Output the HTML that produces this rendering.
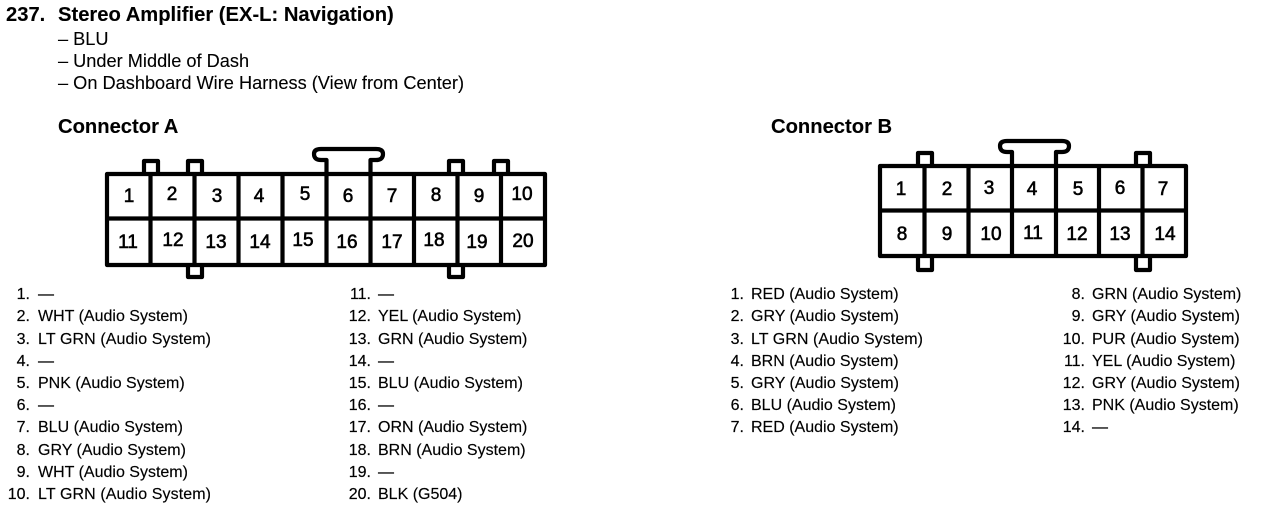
<!DOCTYPE html>
<html><head><meta charset="utf-8">
<style>
html,body{margin:0;padding:0;background:#fff;width:1264px;height:512px;overflow:hidden}
svg{display:block}
text{font-family:"Liberation Sans",sans-serif;fill:#000}
.t{font-size:16px;stroke:#000;stroke-width:.15}
.d{font-size:18.2px;stroke:#000;stroke-width:.1}
.n{font-size:16px;text-anchor:end;stroke:#000;stroke-width:.2}
.h{font-size:20.2px;font-weight:bold;stroke:#000;stroke-width:.1}
.c{font-size:19px;text-anchor:middle;stroke:#000;stroke-width:.6}
.s{fill:none;stroke:#000;stroke-width:4.2;stroke-linejoin:round}
</style></head><body>
<svg width="1264" height="512" viewBox="0 0 1264 512" xmlns="http://www.w3.org/2000/svg">
<text class="h" x="6" y="21">237.</text>
<text class="h" x="58" y="21">Stereo Amplifier (EX-L: Navigation)</text>
<text class="d" x="58" y="45">– BLU</text>
<text class="d" x="58" y="67">– Under Middle of Dash</text>
<text class="d" x="58" y="89">– On Dashboard Wire Harness (View from Center)</text>
<text class="h" x="58" y="133">Connector A</text>
<text class="h" x="771" y="133">Connector B</text>

<!-- Connector A -->
<g class="s">
<path d="M144 172V161H158V172M188 172V161H202V172M449 172V161H463V172M494 172V161H508V172"/>
<path d="M188 265V277H202V265M449 265V277H463V265"/>
<path d="M326.500 172V160H321Q314 160 314 154Q314 149 321 149H376Q383 149 383 154Q383 160 376 160H370.500V172"/>
<rect x="107" y="174" width="438" height="91"/>
<path d="M150.500 174V265M194.500 174V265M238.500 174V265M282.500 174V265M326.500 174V265M370.500 174V265M414 174V265M457.500 174V265M501 174V265M107 218.500H545"/>
</g>
<g class="c">
<text x="129" y="202">1</text><text x="172" y="200">2</text><text x="217" y="202">3</text><text x="259" y="202">4</text><text x="305" y="200">5</text><text x="348" y="202">6</text><text x="392" y="202">7</text><text x="436" y="201">8</text><text x="479" y="202">9</text><text x="522" y="200">10</text>
<text x="128" y="248">11</text><text x="173" y="246">12</text><text x="216" y="248">13</text><text x="260" y="248">14</text><text x="303" y="246">15</text><text x="347" y="248">16</text><text x="392" y="248">17</text><text x="434" y="246">18</text><text x="477" y="248">19</text><text x="523" y="247">20</text>
</g>

<!-- Connector B -->
<g class="s">
<path d="M918 164V153H932V164M1136 164V153H1150V164"/>
<path d="M918 256V270H932V256M1136 256V270H1150V256"/>
<path d="M1012 164V152H1007Q1000 152 1000 146Q1000 141 1007 141H1062Q1069 141 1069 146Q1069 152 1062 152H1056V164"/>
<rect x="880" y="166" width="306" height="90"/>
<path d="M924.500 166V256M968.500 166V256M1012 166V256M1056 166V256M1099 166V256M1142.500 166V256M880 210.500H1186"/>
</g>
<g class="c">
<text x="901" y="195">1</text><text x="947" y="195">2</text><text x="989" y="194">3</text><text x="1032" y="195">4</text><text x="1078" y="195">5</text><text x="1120" y="194">6</text><text x="1163" y="195">7</text>
<text x="902" y="240">8</text><text x="947" y="240">9</text><text x="991" y="240">10</text><text x="1033" y="239">11</text><text x="1077" y="240">12</text><text x="1120" y="240">13</text><text x="1165" y="240">14</text>
</g>

<!-- List A1 -->
<g>
<text class="n" x="30" y="299">1.</text><text class="t" x="38" y="299">—</text>
<text class="n" x="30" y="321">2.</text><text class="t" x="38" y="321">WHT (Audio System)</text>
<text class="n" x="30" y="344">3.</text><text class="t" x="38" y="344" textLength="173">LT GRN (Audio System)</text>
<text class="n" x="30" y="366">4.</text><text class="t" x="38" y="366">—</text>
<text class="n" x="30" y="388">5.</text><text class="t" x="38" y="388">PNK (Audio System)</text>
<text class="n" x="30" y="410">6.</text><text class="t" x="38" y="410">—</text>
<text class="n" x="30" y="432">7.</text><text class="t" x="38" y="432">BLU (Audio System)</text>
<text class="n" x="30" y="455">8.</text><text class="t" x="38" y="455">GRY (Audio System)</text>
<text class="n" x="30" y="477">9.</text><text class="t" x="38" y="477">WHT (Audio System)</text>
<text class="n" x="30" y="499">10.</text><text class="t" x="38" y="499" textLength="173">LT GRN (Audio System)</text>
</g>
<!-- List A2 -->
<g>
<text class="n" x="371" y="299">11.</text><text class="t" x="378" y="299">—</text>
<text class="n" x="371" y="321">12.</text><text class="t" x="378" y="321">YEL (Audio System)</text>
<text class="n" x="371" y="344">13.</text><text class="t" x="378" y="344">GRN (Audio System)</text>
<text class="n" x="371" y="366">14.</text><text class="t" x="378" y="366">—</text>
<text class="n" x="371" y="388">15.</text><text class="t" x="378" y="388">BLU (Audio System)</text>
<text class="n" x="371" y="410">16.</text><text class="t" x="378" y="410">—</text>
<text class="n" x="371" y="432">17.</text><text class="t" x="378" y="432">ORN (Audio System)</text>
<text class="n" x="371" y="455">18.</text><text class="t" x="378" y="455">BRN (Audio System)</text>
<text class="n" x="371" y="477">19.</text><text class="t" x="378" y="477">—</text>
<text class="n" x="371" y="499">20.</text><text class="t" x="378" y="499">BLK (G504)</text>
</g>
<!-- List B1 -->
<g>
<text class="n" x="744" y="299">1.</text><text class="t" x="751" y="299">RED (Audio System)</text>
<text class="n" x="744" y="321">2.</text><text class="t" x="751" y="321">GRY (Audio System)</text>
<text class="n" x="744" y="344">3.</text><text class="t" x="751" y="344" textLength="172">LT GRN (Audio System)</text>
<text class="n" x="744" y="366">4.</text><text class="t" x="751" y="366">BRN (Audio System)</text>
<text class="n" x="744" y="388">5.</text><text class="t" x="751" y="388">GRY (Audio System)</text>
<text class="n" x="744" y="410">6.</text><text class="t" x="751" y="410">BLU (Audio System)</text>
<text class="n" x="744" y="432">7.</text><text class="t" x="751" y="432">RED (Audio System)</text>
</g>
<!-- List B2 -->
<g>
<text class="n" x="1085" y="299">8.</text><text class="t" x="1092" y="299">GRN (Audio System)</text>
<text class="n" x="1085" y="321">9.</text><text class="t" x="1092" y="321">GRY (Audio System)</text>
<text class="n" x="1085" y="344">10.</text><text class="t" x="1092" y="344">PUR (Audio System)</text>
<text class="n" x="1085" y="366">11.</text><text class="t" x="1092" y="366">YEL (Audio System)</text>
<text class="n" x="1085" y="388">12.</text><text class="t" x="1092" y="388">GRY (Audio System)</text>
<text class="n" x="1085" y="410">13.</text><text class="t" x="1092" y="410">PNK (Audio System)</text>
<text class="n" x="1085" y="432">14.</text><text class="t" x="1092" y="432">—</text>
</g>
</svg>
</body></html>
